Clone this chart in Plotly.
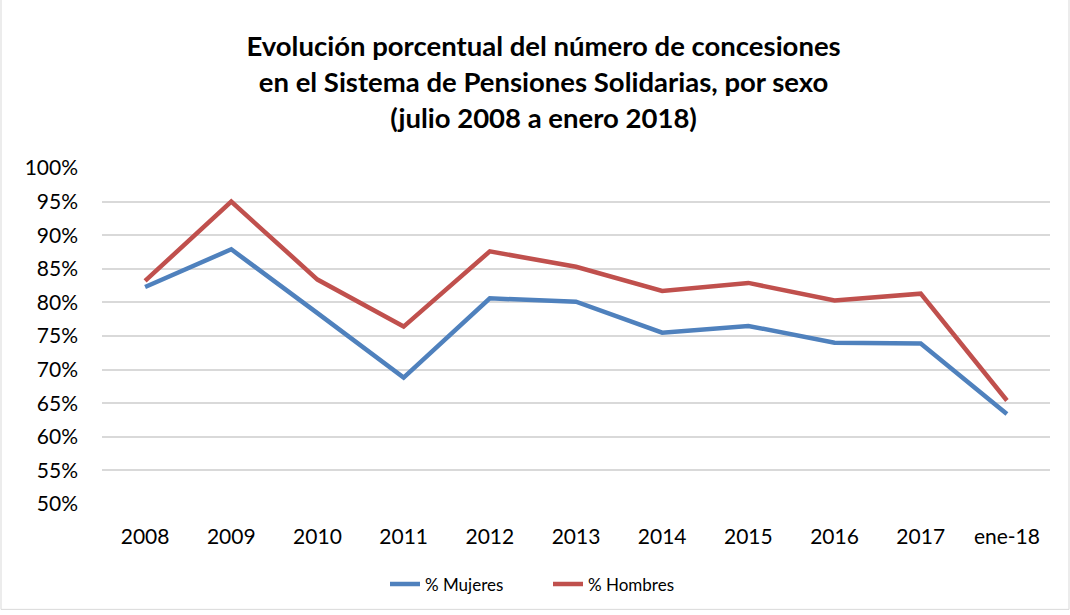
import plotly.graph_objects as go

categories = ["2008", "2009", "2010", "2011", "2012", "2013", "2014", "2015", "2016", "2017", "ene-18"]
mujeres = [82.3, 87.9, 78.4, 68.8, 80.6, 80.1, 75.5, 76.5, 74.0, 73.9, 63.4]
hombres = [83.2, 95.0, 83.4, 76.4, 87.6, 85.3, 81.7, 82.9, 80.3, 81.3, 65.4]
y_ticks = [50, 55, 60, 65, 70, 75, 80, 85, 90, 95, 100]
y_tick_labels = [f"{v}%" for v in y_ticks]

FONT = "Lato, Carlito, Calibri, sans-serif"
W, H = 1070, 615
ML, MR, MT, MB = 102, 20, 168, 109

fig = go.Figure()
fig.add_trace(go.Scatter(x=categories, y=mujeres, name="% Mujeres", mode="lines",
                         line=dict(color="#4f81bd", width=4.5)))
fig.add_trace(go.Scatter(x=categories, y=hombres, name="% Hombres", mode="lines",
                         line=dict(color="#c0504d", width=4.5)))

pw, ph = W - ML - MR, H - MT - MB

fig.update_layout(
    width=W, height=H,
    margin=dict(l=ML, r=MR, t=MT, b=MB),
    paper_bgcolor="white", plot_bgcolor="white",
    font=dict(family=FONT, color="#000000"),
    title=dict(text="<b>Evolución porcentual del número de concesiones<br>en el Sistema de Pensiones Solidarias, por sexo<br>(julio 2008 a enero 2018)</b>",
               x=0.508, xanchor="center", y=1 - 56 / H, yanchor="middle",
               font=dict(size=27.5, family=FONT, color="#000000")),
    xaxis=dict(type="category", range=[-0.5, len(categories) - 0.5], showgrid=False,
               showline=False, ticks="", tickfont=dict(size=21), ticklabelstandoff=18),
    yaxis=dict(range=[50, 100], tickvals=y_ticks, ticktext=y_tick_labels,
               showgrid=True, gridcolor="#d9d9d9", gridwidth=1.5, zeroline=False,
               showline=False, ticks="", tickfont=dict(size=21), ticklabelstandoff=23),
    legend=dict(orientation="h", x=(395 - 10 - ML) / pw, xanchor="left",
                y=-(587 - (H - MB)) / ph,
                yanchor="middle", font=dict(size=17), tracegroupgap=0, entrywidth=118),
    showlegend=True,
)

fig.add_shape(type="rect", xref="paper", yref="paper",
              x0=-(ML - 1) / pw, x1=1 + (MR - 1) / pw,
              y0=-(MB - 3) / ph, y1=1 + (MT + 5) / ph,
              line=dict(color="#d9d9d9", width=1), layer="below")

fig.write_html("out.html", config={"displayModeBar": False},
               post_script="document.body.style.margin='0';document.body.style.overflow='hidden';")
